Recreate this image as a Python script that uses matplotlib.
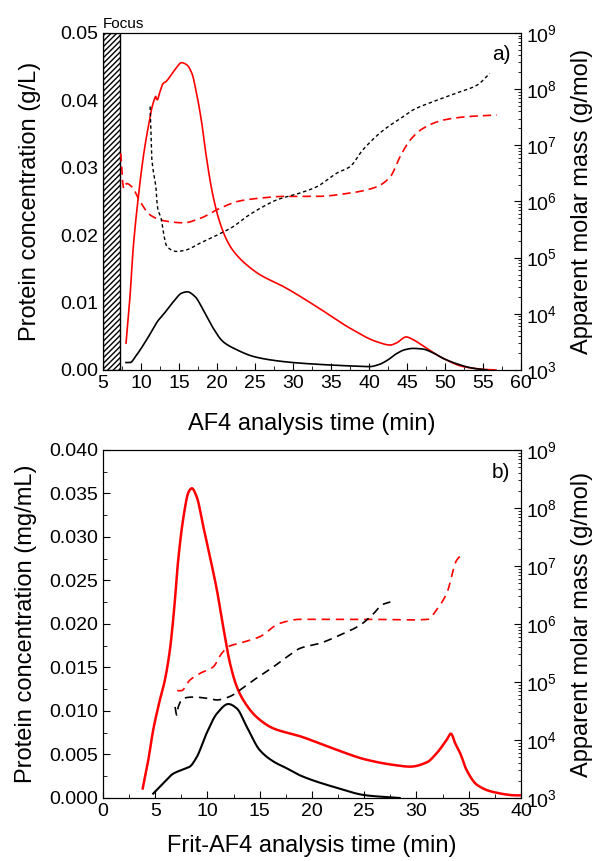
import matplotlib
matplotlib.use('Agg')
import matplotlib.pyplot as plt
import numpy as np
from matplotlib.patches import Rectangle
from matplotlib.ticker import MultipleLocator, LogLocator, NullFormatter, FormatStrFormatter

plt.rcParams['font.family'] = ['Liberation Sans', 'DejaVu Sans']
plt.rcParams['mathtext.fontset'] = 'custom'
plt.rcParams['mathtext.rm'] = 'Liberation Sans'

# ---- panel a) AF4 ----
a_red_t = [8.03, 8.55, 8.99, 9.65, 10.3, 10.96, 11.6, 11.97, 12.1, 12.5, 12.9, 13.3, 13.8, 14.5, 15.35, 16.0, 16.7, 17.3, 18.0, 18.6, 19.5, 20.4, 21.5, 22.4, 23.9, 25.7, 28.7, 33.1, 37.5, 41.0, 42.8, 43.6, 44.9, 45.8, 47.6, 49.8, 52.4, 55.0, 56.7]
a_red_c = [0.0040, 0.0109, 0.0183, 0.0257, 0.0316, 0.0361, 0.0396, 0.0406, 0.0400, 0.0413, 0.0425, 0.0428, 0.0435, 0.0446, 0.0456, 0.0453, 0.0440, 0.0411, 0.0366, 0.0316, 0.0257, 0.0218, 0.0188, 0.0173, 0.0156, 0.0141, 0.0124, 0.0094, 0.0062, 0.0042, 0.0037, 0.0040, 0.0049, 0.0045, 0.0032, 0.0017, 0.0005, 0.0001, 0.0]

a_blk_t = [8.03, 8.55, 9.4, 10.75, 12.3, 12.7, 14.25, 15.35, 16.1, 17.1, 18.2, 19.5, 20.8, 22.6, 24.8, 27.0, 30.0, 33.9, 37.5, 40.1, 41.3, 42.5, 43.6, 44.7, 45.8, 47.1, 48.5, 49.8, 51.6, 53.5, 55.5]
a_blk_c = [0.0011, 0.0011, 0.0022, 0.0045, 0.0074, 0.0079, 0.0101, 0.0114, 0.0116, 0.0109, 0.0089, 0.0062, 0.0042, 0.0030, 0.0020, 0.0015, 0.0011, 0.0008, 0.0006, 0.0005, 0.0008, 0.0015, 0.0024, 0.0030, 0.0032, 0.0031, 0.0025, 0.0017, 0.0009, 0.0003, 0.0]

a_red_mt = [7.33, 7.46, 7.67, 8.1, 8.8, 9.87, 11.2, 12.9, 15.6, 17.8, 20.4, 23.0, 25.7, 28.7, 33.1, 37.5, 41.0, 42.8, 44.1, 45.4, 47.1, 49.8, 52.9, 56.8]
a_red_lg = [6.86, 6.62, 6.23, 6.32, 6.26, 6.00, 5.76, 5.66, 5.62, 5.70, 5.88, 6.01, 6.06, 6.09, 6.09, 6.15, 6.26, 6.44, 6.80, 7.09, 7.30, 7.45, 7.51, 7.54]

a_blk_mt = [11.2, 11.3, 11.4, 11.6, 12.0, 12.15, 12.7, 12.9, 13.4, 14.7, 16.0, 17.8, 20.0, 22.1, 23.9, 25.7, 27.9, 30.9, 33.1, 35.7, 37.5, 39.2, 41.9, 44.5, 45.8, 48.5, 51.5, 54.2, 55.9]
a_blk_lg = [7.69, 7.27, 6.80, 6.56, 6.20, 5.91, 5.67, 5.49, 5.20, 5.11, 5.14, 5.26, 5.40, 5.55, 5.73, 5.88, 6.03, 6.15, 6.26, 6.50, 6.62, 6.92, 7.27, 7.51, 7.63, 7.78, 7.93, 8.07, 8.28]

# ---- panel b) Frit-AF4 ----
b_red_t = [3.8, 4.34, 4.8, 5.45, 5.93, 6.4, 6.8, 7.2, 7.7, 8.2, 8.5, 8.97, 9.6, 10.24, 10.9, 11.5, 12.15, 12.8, 13.4, 14.7, 16.3, 18.85, 22.0, 25.2, 27.8, 29.4, 31.0, 31.9, 32.9, 33.3, 33.7, 34.2, 34.8, 35.8, 37.3, 39.6, 40.0]
b_red_c = [0.0011, 0.0044, 0.0078, 0.0113, 0.0136, 0.0170, 0.0216, 0.0274, 0.0323, 0.0352, 0.0356, 0.0346, 0.0312, 0.0277, 0.0239, 0.0197, 0.0155, 0.0128, 0.0113, 0.0093, 0.0080, 0.0071, 0.0057, 0.0044, 0.0038, 0.0036, 0.0041, 0.0051, 0.0067, 0.0074, 0.0063, 0.0051, 0.0032, 0.0015, 0.0007, 0.0003, 0.0003]

b_blk_t = [4.8, 5.77, 6.73, 7.7, 8.3, 8.97, 9.9, 10.9, 12.0, 12.8, 13.75, 15.0, 16.3, 17.6, 18.85, 22.0, 25.2, 28.4]
b_blk_c = [0.0005, 0.0017, 0.0028, 0.0033, 0.0036, 0.0047, 0.0074, 0.0097, 0.0108, 0.0103, 0.0082, 0.0055, 0.0042, 0.0034, 0.0026, 0.0013, 0.0003, 0.0]

b_red_mt = [7.1, 7.5, 8.3, 9.3, 10.55, 11.35, 12.0, 13.1, 15.0, 16.9, 18.85, 25.2, 29.4, 31.1, 31.9, 32.9, 33.85, 34.5]
b_red_lg = [4.85, 4.85, 5.03, 5.15, 5.26, 5.49, 5.61, 5.67, 5.78, 6.01, 6.08, 6.08, 6.07, 6.08, 6.24, 6.53, 7.10, 7.22]

b_blk_mt = [6.9, 7.05, 7.2, 7.7, 8.65, 9.9, 10.9, 12.15, 13.1, 14.4, 16.3, 17.9, 18.85, 20.8, 22.7, 24.6, 25.9, 26.7, 27.5]
b_blk_lg = [4.57, 4.43, 4.57, 4.72, 4.74, 4.72, 4.69, 4.75, 4.86, 5.03, 5.26, 5.47, 5.58, 5.67, 5.81, 5.98, 6.18, 6.33, 6.38]

RED = '#ff0000'
fig = plt.figure(figsize=(5.92, 8.61), dpi=100)


def smooth(t, v, n=400):
    # piecewise cubic Hermite through the read points (no overshoot)
    t = np.asarray(t, float)
    v = np.asarray(v, float)
    d = np.diff(v) / np.diff(t)
    m = np.zeros_like(v)
    m[0], m[-1] = d[0], d[-1]
    for i in range(1, len(v) - 1):
        if d[i - 1] * d[i] <= 0:
            m[i] = 0
        else:
            w1 = 2 * (t[i + 1] - t[i]) + (t[i] - t[i - 1])
            w2 = (t[i + 1] - t[i]) + 2 * (t[i] - t[i - 1])
            m[i] = (w1 + w2) / (w1 / d[i - 1] + w2 / d[i])
    tt = np.linspace(t[0], t[-1], n)
    idx = np.clip(np.searchsorted(t, tt) - 1, 0, len(t) - 2)
    h = t[idx + 1] - t[idx]
    s = (tt - t[idx]) / h
    h00 = 2 * s**3 - 3 * s**2 + 1
    h10 = s**3 - 2 * s**2 + s
    h01 = -2 * s**3 + 3 * s**2
    h11 = s**3 - s**2
    vv = h00 * v[idx] + h10 * h * m[idx] + h01 * v[idx + 1] + h11 * h * m[idx + 1]
    return tt, vv


def style(ax, ax2):
    ax.tick_params(direction='in', which='both', top=False, right=False, labelsize=14)
    ax.tick_params(which='major', length=5)
    ax.tick_params(which='minor', length=3)
    ax2.set_yscale('log')
    ax2.set_ylim(1e3, 1e9)
    ax2.yaxis.set_major_locator(LogLocator(base=10, numticks=10))
    ax2.yaxis.set_minor_locator(LogLocator(base=10, subs=np.arange(2, 10), numticks=100))
    ax2.yaxis.set_minor_formatter(NullFormatter())
    ax2.tick_params(direction='in', which='both', labelsize=14)
    ax2.tick_params(which='major', length=5)
    ax2.tick_params(which='minor', length=2.5)
    ax2.set_ylabel('Apparent molar mass (g/mol)', fontsize=17, labelpad=10)


# panel a
ax = fig.add_axes([0.174, 0.5703, 0.706, 0.3914])
ax2 = ax.twinx()
x, y = smooth(a_red_t, a_red_c)
ax.plot(x, y, color=RED, lw=1.2)
x, y = smooth(a_blk_t, a_blk_c)
ax.plot(x, y, color='black', lw=1.2)
x, y = smooth(a_red_mt, a_red_lg)
ax2.plot(x, 10 ** y, color=RED, lw=1.2, ls=(0, (5, 3)))
x, y = smooth(a_blk_mt, a_blk_lg)
ax2.plot(x, 10 ** y, color='black', lw=1.0, ls=(0, (2.5, 2)))
ax.add_patch(Rectangle((5, 0), 2.25, 0.05, facecolor='white', edgecolor='black',
                       hatch='//////', lw=1, zorder=3))
ax.set_xlim(5, 60)
ax.set_ylim(0, 0.05)
ax.xaxis.set_major_locator(MultipleLocator(5))
ax.xaxis.set_minor_locator(MultipleLocator(2.5))
ax.yaxis.set_major_locator(MultipleLocator(0.01))
ax.yaxis.set_minor_locator(MultipleLocator(0.005))
ax.yaxis.set_major_formatter(FormatStrFormatter('%.2f'))
ax.set_xlabel('AF4 analysis time (min)', fontsize=17, labelpad=15)
ax.set_ylabel('Protein concentration (g/L)', fontsize=17, labelpad=14)
ax.text(5, 0.0503, 'Focus', fontsize=11, ha='left', va='bottom')
ax.text(0.975, 0.935, 'a)', transform=ax.transAxes, fontsize=15, ha='right', va='center')
style(ax, ax2)

# panel b
bx = fig.add_axes([0.174, 0.0732, 0.706, 0.4042])
bx2 = bx.twinx()
x, y = smooth(b_red_t, b_red_c)
bx.plot(x, y, color=RED, lw=1.8)
x, y = smooth(b_blk_t, b_blk_c)
bx.plot(x, y, color='black', lw=1.5)
x, y = smooth(b_red_mt, b_red_lg)
bx2.plot(x, 10 ** y, color=RED, lw=1.2, ls=(0, (5, 3.5)))
x, y = smooth(b_blk_mt, b_blk_lg)
bx2.plot(x, 10 ** y, color='black', lw=1.2, ls=(0, (5, 3.5)))
bx.set_xlim(0, 40)
bx.set_ylim(0, 0.04)
bx.xaxis.set_major_locator(MultipleLocator(5))
bx.xaxis.set_minor_locator(MultipleLocator(2.5))
bx.yaxis.set_major_locator(MultipleLocator(0.005))
bx.yaxis.set_minor_locator(MultipleLocator(0.0025))
bx.yaxis.set_major_formatter(FormatStrFormatter('%.3f'))
bx.set_xlabel('Frit-AF4 analysis time (min)', fontsize=17, labelpad=11)
bx.set_ylabel('Protein concentration (mg/mL)', fontsize=17, labelpad=9)
bx.text(0.975, 0.935, 'b)', transform=bx.transAxes, fontsize=15, ha='right', va='center')
style(bx, bx2)

fig.savefig('out.png', dpi=100)
